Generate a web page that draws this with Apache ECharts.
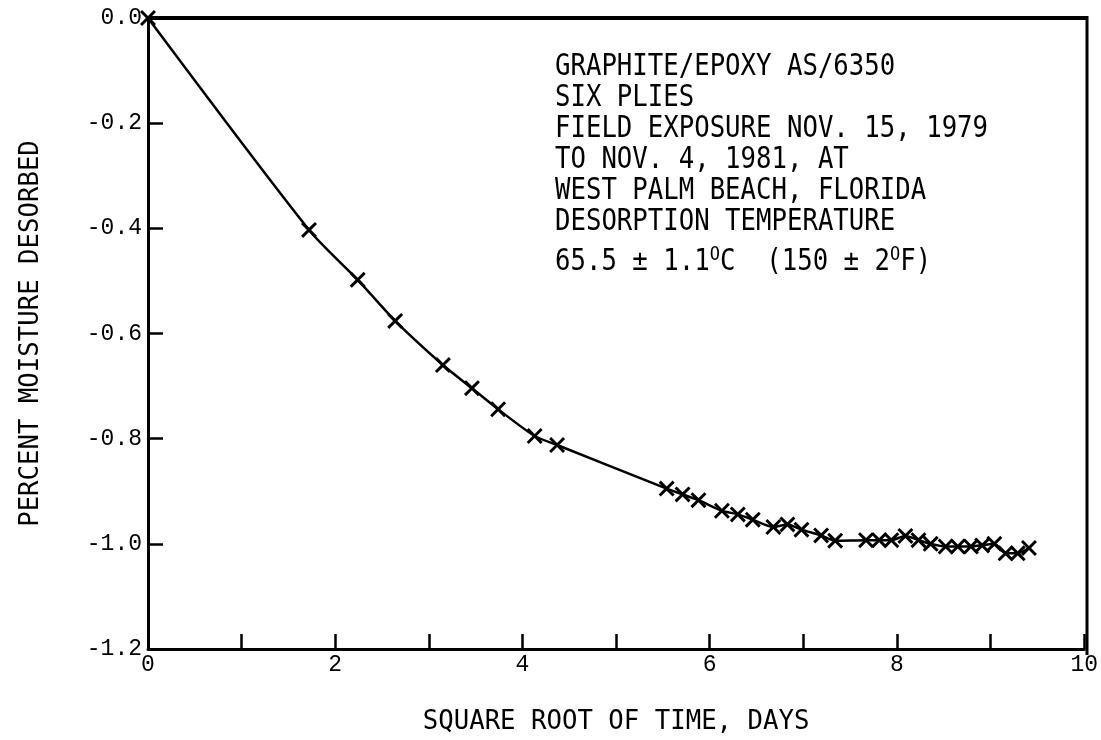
<!DOCTYPE html>
<html>
<head>
<meta charset="utf-8">
<script src="https://cdn.jsdelivr.net/npm/echarts@6/dist/echarts.min.js"></script>
<style>
html,body{margin:0;padding:0;background:#fff;}
#c{width:1101px;height:740px;}
</style>
</head>
<body>
<div id="c"></div>
<script>
const sqrtTime = [0, 1.72, 2.24, 2.64, 3.15, 3.46, 3.74, 4.13, 4.37, 5.54, 5.71, 5.88, 6.13, 6.30, 6.46, 6.68, 6.83, 6.98, 7.19, 7.34, 7.67, 7.81, 7.94, 8.09, 8.23, 8.36, 8.52, 8.65, 8.79, 8.91, 9.04, 9.16, 9.29, 9.41];
const moisture = [0, -0.403, -0.498, -0.576, -0.660, -0.704, -0.744, -0.795, -0.812, -0.895, -0.906, -0.917, -0.937, -0.944, -0.954, -0.968, -0.963, -0.973, -0.984, -0.994, -0.993, -0.993, -0.993, -0.985, -0.993, -1.000, -1.005, -1.005, -1.005, -1.003, -1.000, -1.018, -1.018, -1.008];
const xTitle = 'SQUARE ROOT OF TIME, DAYS';
const yTitle = 'PERCENT MOISTURE DESORBED';
const noteLines = [
  'GRAPHITE/EPOXY AS/6350',
  'SIX PLIES',
  'FIELD EXPOSURE NOV. 15, 1979',
  'TO NOV. 4, 1981, AT',
  'WEST PALM BEACH, FLORIDA',
  'DESORPTION TEMPERATURE'
];
const tempLine = '{n|65.5 ± 1.1}{s|O}{n|C  (150 ± 2}{s|O}{n|F)}';

const pts = sqrtTime.map((x, i) => [x, moisture[i]]);
const labelFont = "'Liberation Mono', 'DejaVu Sans Mono', monospace";
const textFont = "'DejaVu Sans Mono', 'Liberation Mono', monospace";
const xSym = 'path://M0,1.3L1.3,0L5,3.7L8.7,0L10,1.3L6.3,5L10,8.7L8.7,10L5,6.3L1.3,10L0,8.7L3.7,5Z';

const noteGraphics = noteLines.map((t, i) => ({
  type: 'text', x: 555, y: 67 + 31 * i, scaleY: 1.15,
  style: {text: t, x: 0, y: 0, verticalAlign: 'middle', fill: '#000', font: '25.7px ' + textFont}
}));
noteGraphics.push({
  type: 'text', x: 555, y: 262, scaleY: 1.15,
  style: {
    text: tempLine, x: 0, y: 0, verticalAlign: 'middle', fill: '#000', font: '25.7px ' + textFont,
    rich: {
      n: {fontFamily: textFont, fontSize: 25.7, fill: '#000', lineHeight: 30},
      s: {fontFamily: textFont, fontSize: 17, fill: '#000', lineHeight: 16, verticalAlign: 'top'}
    }
  }
});

const chart = echarts.init(document.getElementById('c'));
chart.setOption({
  animation: false,
  backgroundColor: '#fff',
  grid: {left: 148, top: 18, right: 14, bottom: 86, show: false},
  xAxis: {
    type: 'value', min: 0, max: 10, interval: 1,
    axisLine: {show: true, onZero: false, lineStyle: {color: '#000', width: 3}},
    axisTick: {show: true, inside: true, length: 15, lineStyle: {color: '#000', width: 2.5}},
    axisLabel: {color: '#000', fontFamily: labelFont, fontSize: 23, margin: 4,
      formatter: v => (v % 2 === 0 ? String(v) : '')},
    splitLine: {show: false},
    name: xTitle, nameLocation: 'middle', nameGap: 60,
    nameTextStyle: {color: '#000', fontFamily: textFont, fontSize: 25.7}
  },
  yAxis: {
    type: 'value', min: -1.2, max: 0, interval: 0.2,
    axisLine: {show: true, onZero: false, lineStyle: {color: '#000', width: 3}},
    axisTick: {show: true, inside: true, length: 15, lineStyle: {color: '#000', width: 2.5}},
    axisLabel: {color: '#000', fontFamily: labelFont, fontSize: 23, margin: 6,
      formatter: v => v.toFixed(1)},
    splitLine: {show: false},
    name: yTitle, nameLocation: 'middle', nameGap: 104, nameRotate: 90,
    nameTextStyle: {color: '#000', fontFamily: textFont, fontSize: 25.7}
  },
  graphic: [
    {type: 'line', shape: {x1: 148, y1: 18, x2: 1087, y2: 18}, style: {stroke: '#000', lineWidth: 4}},
    {type: 'line', shape: {x1: 1087, y1: 16, x2: 1087, y2: 655}, style: {stroke: '#000', lineWidth: 3}}
  ].concat(noteGraphics),
  series: [{
    type: 'line', data: pts, smooth: 0.25,
    symbol: xSym, symbolSize: 16, showSymbol: true,
    lineStyle: {color: '#000', width: 2.5},
    itemStyle: {color: '#000'}
  }]
});
</script>
</body>
</html>
